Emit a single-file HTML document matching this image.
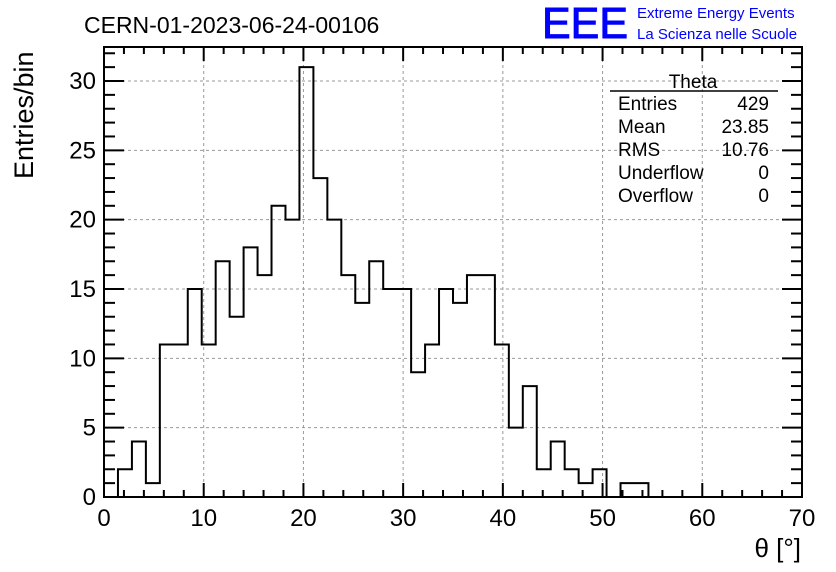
<!DOCTYPE html>
<html><head><meta charset="utf-8"><style>
html,body{margin:0;padding:0;background:#fff;}
svg{display:block;font-family:"Liberation Sans",sans-serif;}
</style></head><body>
<svg id="chart" width="836" height="572" viewBox="0 0 836 572">
<rect x="0" y="0" width="836" height="572" fill="#fff"/>
<text x="84" y="33" font-size="23" fill="#000">CERN-01-2023-06-24-00106</text>
<text x="542" y="38" font-size="44" fill="#0000ff" stroke="#0000ff" stroke-width="1" textLength="86" lengthAdjust="spacingAndGlyphs">EEE</text>
<text x="637" y="18" font-size="15" fill="#0000ff">Extreme Energy Events</text>
<text x="637" y="39" font-size="15" fill="#0000ff">La Scienza nelle Scuole</text>
<g id="grid"></g>
<g id="hist"></g>
<g id="axes"></g>
<text x="801" y="557" font-size="26" text-anchor="end">θ [°]</text>
<text transform="translate(33,179) rotate(-90)" font-size="27">Entries/bin</text>
<g font-size="19">
<text x="693" y="88" text-anchor="middle">Theta</text>
<line x1="610" y1="91" x2="778" y2="91" stroke="#000" stroke-width="1.5"/>
<text x="618" y="110">Entries</text><text x="769" y="110" text-anchor="end">429</text>
<text x="618" y="133">Mean</text><text x="769" y="133" text-anchor="end">23.85</text>
<text x="618" y="156">RMS</text><text x="769" y="156" text-anchor="end">10.76</text>
<text x="618" y="179">Underflow</text><text x="769" y="179" text-anchor="end">0</text>
<text x="618" y="202">Overflow</text><text x="769" y="202" text-anchor="end">0</text>
</g>
</svg>
<script>
const counts = [0,2,4,1,11,11,15,11,17,13,18,16,21,20,31,23,20,16,14,17,15,15,9,11,15,14,16,16,11,5,8,2,4,2,1,2,0,1,1,0,0,0,0,0,0,0,0,0,0,0];
const xTicks = [0,10,20,30,40,50,60,70];
const yTicks = [0,5,10,15,20,25,30];
const xMin=0,xMax=70,yMin=0;
const L=104,R=802,T=47,B=497;
const NS="http://www.w3.org/2000/svg";
function sx(v){return L+(v-xMin)/(xMax-xMin)*(R-L);}
function sy(v){return B-(v-yMin)/(30-yMin)*(B-81);}
function mk(tag,attrs,parent){const e=document.createElementNS(NS,tag);for(const k in attrs)e.setAttribute(k,attrs[k]);parent.appendChild(e);return e;}
const grid=document.getElementById('grid'),hist=document.getElementById('hist'),axes=document.getElementById('axes');
xTicks.forEach(t=>{if(t>xMin&&t<xMax){const l=mk('line',{x1:sx(t),x2:sx(t),y1:T,y2:B,stroke:'#999','stroke-dasharray':'3,3','stroke-width':1},grid);

}});
yTicks.forEach(t=>{if(t>yMin){const l=mk('line',{x1:L,x2:R,y1:sy(t),y2:sy(t),stroke:'#999','stroke-dasharray':'3,3','stroke-width':1},grid);

}});
const bw=(xMax-xMin)/counts.length;
let d='M'+sx(0)+','+sy(0);
counts.forEach((c,i)=>{d+=' L'+sx(i*bw)+','+sy(c)+' L'+sx((i+1)*bw)+','+sy(c);});
d+=' L'+sx(xMax)+','+sy(0);
const p=mk('path',{d:d,fill:'none',stroke:'#000','stroke-width':2},hist);


const fr=mk('rect',{x:L,y:T,width:R-L,height:B-T,fill:'none',stroke:'#000','stroke-width':2},axes);


for(let v=xMin;v<=xMax;v+=2){const major=v%10===0;const len=major?14:7;
mk('line',{x1:sx(v),x2:sx(v),y1:B,y2:B-len,stroke:'#000','stroke-width':2},axes);
mk('line',{x1:sx(v),x2:sx(v),y1:T,y2:T+len,stroke:'#000','stroke-width':2},axes);}
for(let v=0;v<=32;v+=1){const major=v%5===0;const len=major?20:11;
mk('line',{x1:L,x2:L+len,y1:sy(v),y2:sy(v),stroke:'#000','stroke-width':2},axes);
mk('line',{x1:R,x2:R-len,y1:sy(v),y2:sy(v),stroke:'#000','stroke-width':2},axes);}
xTicks.forEach(t=>{const e=mk('text',{x:sx(t),y:B+29,'font-size':24,'text-anchor':'middle'},axes);e.textContent=t;

});
yTicks.forEach(t=>{const e=mk('text',{x:L-8,y:sy(t)+8,'font-size':24,'text-anchor':'end'},axes);e.textContent=t;

});
</script>
</body></html>
